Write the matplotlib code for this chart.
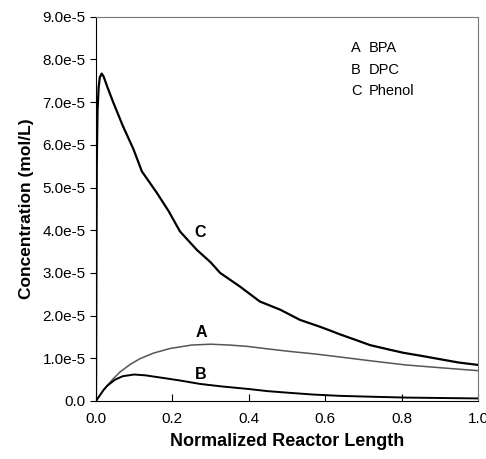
import matplotlib
matplotlib.use('Agg')
import matplotlib.pyplot as plt
from matplotlib.ticker import FuncFormatter

# Phenol (C), concentration in units of 1e-5 mol/L
x_c = [0.0, 0.001, 0.002, 0.004, 0.007, 0.01, 0.015, 0.02, 0.03, 0.045, 0.07, 0.098,
       0.12, 0.159, 0.19, 0.22, 0.264, 0.3, 0.325, 0.377, 0.429, 0.482, 0.534,
       0.586, 0.613, 0.639, 0.68, 0.717, 0.76, 0.804, 0.85, 0.90, 0.95, 1.0]
y_c = [0.0, 3.0, 5.5, 6.8, 7.35, 7.58, 7.67, 7.6, 7.35, 7.0, 6.45, 5.9,
       5.38, 4.88, 4.45, 3.97, 3.54, 3.25, 3.0, 2.68, 2.33, 2.14, 1.90,
       1.74, 1.65, 1.56, 1.43, 1.31, 1.22, 1.13, 1.06, 0.98, 0.90, 0.845]
# BPA (A)
x_a = [0.0, 0.01, 0.02, 0.03, 0.045, 0.063, 0.09, 0.115, 0.15, 0.194, 0.25, 0.3,
       0.35, 0.395, 0.45, 0.508, 0.575, 0.639, 0.72, 0.81, 0.9, 1.0]
y_a = [0.0, 0.13, 0.26, 0.37, 0.52, 0.68, 0.86, 0.99, 1.12, 1.23, 1.31, 1.33,
       1.31, 1.28, 1.22, 1.16, 1.10, 1.03, 0.94, 0.845, 0.78, 0.71]
# DPC (B)
x_b = [0.0, 0.01, 0.02, 0.03, 0.05, 0.07, 0.1, 0.13, 0.168, 0.22, 0.272, 0.33,
       0.40, 0.45, 0.508, 0.57, 0.639, 0.72, 0.81, 0.9, 1.0]
y_b = [0.0, 0.13, 0.26, 0.36, 0.5, 0.58, 0.62, 0.60, 0.55, 0.48, 0.40, 0.34,
       0.28, 0.23, 0.19, 0.15, 0.12, 0.10, 0.08, 0.07, 0.06]

legend_keys = ['A', 'B', 'C']
legend_names = ['BPA', 'DPC', 'Phenol']

scale = 1e-5

plt.rcParams['font.family'] = ['Liberation Sans', 'DejaVu Sans']

fig = plt.figure(figsize=(4.86, 4.59), dpi=100)
ax = fig.add_axes([0.1975, 0.1264, 0.786, 0.837])

ax.plot(x_c, [v * scale for v in y_c], color='black', lw=1.6)
ax.plot(x_a, [v * scale for v in y_a], color='#555555', lw=1.1)
ax.plot(x_b, [v * scale for v in y_b], color='black', lw=1.4)

ax.text(0.272, 3.94e-5, 'C', fontsize=11.5, fontweight='bold', ha='center', va='center')
ax.text(0.275, 1.60e-5, 'A', fontsize=11.5, fontweight='bold', ha='center', va='center')
ax.text(0.275, 0.61e-5, 'B', fontsize=11.5, fontweight='bold', ha='center', va='center')

for i, (k, n) in enumerate(zip(legend_keys, legend_names)):
    yy = 8.27e-5 - i * 0.505e-5
    ax.text(0.668, yy, k, fontsize=10.5, ha='left', va='center')
    ax.text(0.715, yy, n, fontsize=10.5, ha='left', va='center')

ax.set_xlim(0, 1.0)
ax.set_ylim(0, 9e-5)
ax.set_xticks([0.0, 0.2, 0.4, 0.6, 0.8, 1.0])
ax.set_yticks([i * 1e-5 for i in range(10)])
ax.yaxis.set_major_formatter(FuncFormatter(lambda v, p: '0.0' if abs(v) < 1e-12 else '%.1fe-5' % (v / 1e-5)))
ax.xaxis.set_major_formatter(FuncFormatter(lambda v, p: '%.1f' % v))
ax.tick_params(axis='x', direction='in', length=5, labelsize=11, pad=8)
ax.tick_params(axis='y', direction='out', length=4, labelsize=11)
ax.spines['right'].set_color('#777777')
ax.spines['top'].set_color('#777777')

ax.set_xlabel('Normalized Reactor Length', fontsize=13, fontweight='bold', labelpad=5)
ax.set_ylabel('Concentration (mol/L)', fontsize=12.5, fontweight='bold', labelpad=6)

fig.savefig('out.png', dpi=100)
